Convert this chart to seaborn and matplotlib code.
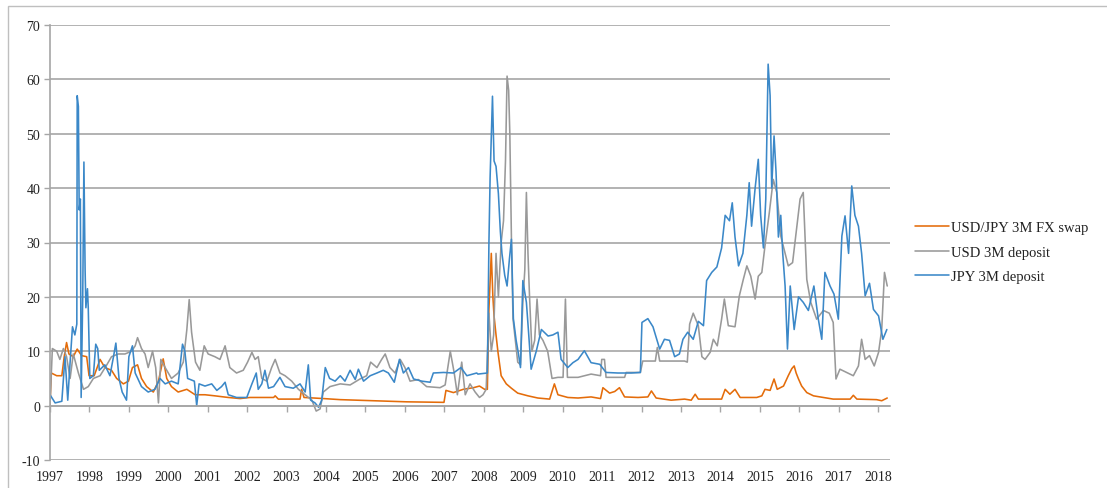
import numpy as np
import pandas as pd
import seaborn as sns
import matplotlib
matplotlib.use("Agg")
import matplotlib.pyplot as plt
from matplotlib.patches import Rectangle

# DATA (decimal year, bps)

swap_t = [1997.00, 1997.03, 1997.17, 1997.30, 1997.36, 1997.42, 1997.48, 1997.59, 1997.69, 1997.80,
          1997.93, 1997.99, 1998.12, 1998.27, 1998.39, 1998.56, 1998.69, 1998.86, 1998.99, 1999.09,
          1999.22, 1999.32, 1999.45, 1999.62, 1999.75, 1999.87, 1999.96, 2000.08, 2000.25, 2000.47,
          2000.68, 2000.93, 2001.18, 2001.52,
          2001.82, 2002.07, 2002.33, 2002.67, 2002.71, 2002.79, 2003.34, 2003.38, 2003.44, 2003.93,
          2004.36, 2005.20, 2006.04, 2006.99, 2007.04, 2007.23, 2007.48, 2007.74,
          2007.89, 2008.02, 2008.09, 2008.13, 2008.19, 2008.23, 2008.26, 2008.31, 2008.36, 2008.44,
          2008.57, 2008.70, 2008.86, 2009.12, 2009.37, 2009.67, 2009.79, 2009.88, 2010.13, 2010.39,
          2010.72, 2010.96, 2011.02, 2011.19, 2011.32, 2011.44, 2011.57, 2011.91, 2012.16, 2012.25,
          2012.37, 2012.75, 2013.09, 2013.26,
          2013.36, 2013.44, 2013.74, 2014.03, 2014.12, 2014.24, 2014.37, 2014.50, 2014.92, 2015.05,
          2015.13, 2015.26, 2015.36, 2015.44, 2015.60, 2015.72, 2015.81, 2015.87, 2015.92, 2015.98,
          2016.06, 2016.19, 2016.36, 2016.61, 2016.86, 2017.29, 2017.37, 2017.46, 2017.96, 2018.09,
          2018.23]
swap_v = [0.0, 6.0, 5.5, 5.5, 9.0, 11.6, 9.5, 9.0, 10.4, 9.2,
          9.0, 5.5, 5.5, 8.5, 7.0, 6.5, 5.0, 4.0, 4.5, 7.0,
          7.5, 5.0, 3.5, 2.5, 4.5, 8.6, 5.0, 3.5, 2.5, 3.0,
          2.0, 2.0, 1.8, 1.5,
          1.3, 1.5, 1.5, 1.5, 1.8, 1.2, 1.2, 3.0, 1.5, 1.3,
          1.1, 0.9, 0.7, 0.6, 2.8, 2.4, 3.0, 3.3,
          3.6, 3.0, 3.0, 17.7, 28.0, 20.0, 16.5, 13.0, 9.8, 5.5,
          4.0, 3.2, 2.3, 1.8, 1.4, 1.2, 4.0, 2.0, 1.5, 1.4,
          1.6, 1.3, 3.3, 2.3, 2.6, 3.3, 1.6, 1.5, 1.6, 2.7,
          1.4, 1.0, 1.2, 1.0,
          2.1, 1.2, 1.2, 1.2, 3.0, 2.1, 3.0, 1.5, 1.5, 1.8,
          3.0, 2.8, 4.9, 3.0, 3.6, 5.5, 6.8, 7.3, 6.0, 4.9,
          3.6, 2.4, 1.8, 1.5, 1.2, 1.2, 1.9, 1.2, 1.1, 0.9,
          1.4]

usd_t = [1997.00, 1997.06, 1997.17, 1997.25, 1997.34, 1997.42, 1997.51, 1997.59, 1997.72, 1997.85,
         1997.97, 1998.10, 1998.27, 1998.44, 1998.56, 1998.73, 1998.90, 1999.07, 1999.16, 1999.22,
         1999.32, 1999.41, 1999.49, 1999.60, 1999.68, 1999.75, 1999.81, 1999.92, 2000.08, 2000.25,
         2000.38, 2000.47, 2000.53, 2000.59, 2000.69, 2000.80, 2000.91, 2001.01, 2001.18, 2001.31,
         2001.44, 2001.56, 2001.73,
         2001.90, 2002.01, 2002.12, 2002.20, 2002.28, 2002.37, 2002.50, 2002.62, 2002.71, 2002.83,
         2002.96, 2003.13, 2003.30, 2003.47, 2003.64, 2003.75, 2003.85, 2003.93, 2004.10, 2004.36,
         2004.61, 2004.86, 2005.03, 2005.13, 2005.29, 2005.41, 2005.50, 2005.62, 2005.75, 2005.88,
         2006.00, 2006.13, 2006.34, 2006.55, 2006.89, 2007.02, 2007.15, 2007.25, 2007.33, 2007.44,
         2007.53, 2007.65, 2007.78,
         2007.89, 2007.98, 2008.06, 2008.13, 2008.19, 2008.25, 2008.31, 2008.37, 2008.44, 2008.50,
         2008.55, 2008.59, 2008.63, 2008.66, 2008.70, 2008.74, 2008.80, 2008.86, 2008.93, 2008.99,
         2009.04, 2009.08, 2009.12, 2009.16, 2009.22, 2009.29, 2009.35, 2009.41, 2009.50, 2009.62,
         2009.73, 2009.88, 2010.01, 2010.07, 2010.12, 2010.39, 2010.72, 2010.96, 2010.99, 2011.06,
         2011.10, 2011.57, 2011.61, 2011.97, 2012.03, 2012.35, 2012.40, 2012.46, 2013.09, 2013.16,
         2013.22,
         2013.31, 2013.44, 2013.53, 2013.61, 2013.74, 2013.82, 2013.92, 2014.03, 2014.10, 2014.20,
         2014.37, 2014.48, 2014.58, 2014.67, 2014.77, 2014.88, 2014.96, 2015.05, 2015.13, 2015.24,
         2015.34, 2015.43, 2015.53, 2015.64, 2015.72, 2015.83, 2015.94, 2016.02, 2016.10, 2016.19,
         2016.29, 2016.44, 2016.61, 2016.76, 2016.86, 2016.93, 2017.03, 2017.20, 2017.37, 2017.50,
         2017.58, 2017.67, 2017.78, 2017.90, 2018.01, 2018.09, 2018.16, 2018.23]
usd_v = [0.0, 10.5, 10.0, 8.5, 10.5, 9.0, 5.0, 9.5, 6.0, 3.0,
         3.5, 5.0, 5.5, 7.5, 9.0, 9.5, 9.5, 10.0, 11.0, 12.5,
         10.5, 9.5, 7.0, 10.0, 7.0, 0.5, 8.5, 7.0, 5.0, 6.0,
         8.0, 14.0, 19.5, 13.5, 8.0, 6.5, 11.0, 9.5, 9.0, 8.5,
         11.0, 7.0, 6.0,
         6.5, 8.0, 9.8, 8.5, 9.0, 5.0, 4.5, 7.0, 8.5, 6.0,
         5.5, 4.5, 3.0, 2.0, 1.0, -1.0, -0.6, 2.5, 3.5, 4.0,
         3.8, 4.9, 5.5, 8.0, 7.0, 8.5, 9.5, 7.0, 6.0, 8.5,
         7.0, 4.5, 4.8, 3.5, 3.3, 3.8, 10.0, 6.0, 2.0, 8.0,
         2.0, 4.0, 2.5,
         1.5, 2.0, 3.0, 17.0, 10.0, 13.0, 28.0, 20.0, 30.0, 34.0,
         45.0, 60.6, 58.0, 50.0, 31.0, 16.0, 12.0, 8.0, 7.5, 19.0,
         25.0, 39.2, 28.0, 20.0, 10.0, 12.0, 19.6, 13.0, 12.0, 10.0,
         5.0, 5.2, 5.2, 19.6, 5.2, 5.2, 5.8, 5.5, 8.5, 8.5,
         5.2, 5.2, 6.1, 6.1, 8.2, 8.2, 10.7, 8.2, 8.2, 8.0,
         15.0,
         17.0, 14.7, 9.0, 8.5, 9.8, 12.2, 11.0, 15.9, 19.6, 14.7,
         14.5, 20.2, 23.2, 25.7, 23.8, 19.6, 23.8, 24.5, 29.4, 35.5,
         41.6, 39.2, 31.2, 28.0, 25.7, 26.3, 33.0, 38.0, 39.2, 23.2,
         19.0, 15.9, 17.5, 17.0, 15.3, 4.9, 6.7, 6.1, 5.5, 7.3,
         12.2, 8.5, 9.2, 7.3, 9.8, 14.0, 24.5, 22.0]

jpy_t = [1997.00, 1997.13, 1997.30, 1997.38, 1997.45, 1997.51, 1997.57, 1997.63, 1997.68, 1997.69,
         1997.72, 1997.74, 1997.77, 1997.79, 1997.83, 1997.86, 1997.89, 1997.91, 1997.95, 1997.97,
         1998.01, 1998.10, 1998.16, 1998.21, 1998.25, 1998.39, 1998.52, 1998.61, 1998.67, 1998.75,
         1998.83, 1998.94, 1999.00, 1999.09, 1999.16, 1999.32, 1999.49, 1999.66, 1999.79, 1999.92,
         2000.08, 2000.25, 2000.36, 2000.42, 2000.49, 2000.66, 2000.72, 2000.78, 2000.93, 2001.10,
         2001.23, 2001.35, 2001.44, 2001.52, 2001.73,
         2001.82, 2001.99, 2002.12, 2002.23, 2002.28, 2002.37, 2002.45, 2002.54, 2002.67, 2002.83,
         2002.96, 2003.17, 2003.34, 2003.47, 2003.55, 2003.61, 2003.72, 2003.81, 2003.89, 2003.98,
         2004.09, 2004.23, 2004.36, 2004.48, 2004.61, 2004.74, 2004.82, 2004.95, 2005.12, 2005.29,
         2005.45, 2005.58, 2005.73, 2005.86, 2005.96, 2006.09, 2006.22, 2006.43, 2006.64, 2006.72,
         2006.98, 2007.23, 2007.42, 2007.57, 2007.82,
         2007.85, 2008.09, 2008.13, 2008.16, 2008.22, 2008.26, 2008.31, 2008.37, 2008.42, 2008.46,
         2008.53, 2008.59, 2008.65, 2008.70, 2008.75, 2008.82, 2008.88, 2008.93, 2008.99, 2009.08,
         2009.13, 2009.20, 2009.33, 2009.46, 2009.63, 2009.75, 2009.88, 2009.96, 2010.13, 2010.26,
         2010.39, 2010.55, 2010.72, 2010.94, 2011.10, 2011.40, 2011.74, 2011.97, 2012.01, 2012.16,
         2012.29, 2012.46, 2012.58, 2012.71, 2012.84, 2012.96, 2013.05, 2013.17,
         2013.31, 2013.44, 2013.57, 2013.65, 2013.78, 2013.91, 2014.03, 2014.12, 2014.23, 2014.30,
         2014.37, 2014.46, 2014.57, 2014.67, 2014.73, 2014.79, 2014.88, 2014.96, 2015.02, 2015.09,
         2015.15, 2015.21, 2015.26, 2015.30, 2015.36, 2015.41, 2015.47, 2015.53, 2015.58, 2015.64,
         2015.70, 2015.77, 2015.87, 2015.98, 2016.10, 2016.23, 2016.37, 2016.48, 2016.57, 2016.65,
         2016.78, 2016.88, 2016.99, 2017.08, 2017.16, 2017.25, 2017.33, 2017.41, 2017.50, 2017.58,
         2017.67, 2017.78, 2017.88, 2018.01, 2018.12, 2018.22]
jpy_v = [2.0, 0.5, 0.8, 9.0, 1.0, 8.0, 14.5, 13.0, 15.0, 57.0,
         55.0, 36.0, 38.0, 1.5, 20.0, 44.8, 25.0, 18.0, 21.5, 18.0,
         5.0, 5.5, 11.3, 10.5, 6.5, 7.5, 5.5, 9.0, 11.5, 5.0,
         2.5, 1.0, 9.0, 11.0, 6.0, 3.5, 2.5, 3.0, 5.0, 4.0,
         4.5, 4.0, 11.3, 10.0, 5.0, 4.5, 0.0, 4.0, 3.6, 4.0,
         2.8, 3.5, 4.3, 2.0, 1.5,
         1.5, 1.5, 4.0, 6.0, 3.0, 4.0, 6.5, 3.2, 3.5, 5.2,
         3.5, 3.2, 4.0, 2.5, 7.5, 1.0, 0.5, -0.3, 1.0, 7.0,
         5.0, 4.5, 5.5, 4.5, 6.5, 4.8, 6.7, 4.5, 5.5, 6.0,
         6.5, 6.0, 4.3, 8.5, 6.0, 7.0, 4.9, 4.5, 4.3, 6.0,
         6.1, 6.0, 7.0, 5.5, 6.0,
         5.8, 6.0, 30.0, 42.0, 56.9, 45.0, 44.0, 39.0, 32.0, 28.0,
         24.0, 22.0, 27.0, 30.6, 16.0, 12.0, 9.5, 7.0, 23.0, 19.0,
         14.0, 6.7, 10.0, 14.0, 12.8, 13.0, 13.5, 8.5, 7.0, 7.9,
         8.5, 10.1, 7.9, 7.6, 6.1, 6.0, 6.0, 6.1, 15.3, 16.0,
         14.5, 10.4, 12.2, 12.0, 9.0, 9.5, 12.2, 13.5,
         12.2, 15.5, 14.7, 23.0, 24.5, 25.5, 29.0, 35.0, 34.0, 37.3,
         31.0, 25.7, 28.0, 35.0, 41.0, 33.0, 40.0, 45.3, 35.0, 29.0,
         38.0, 62.8, 57.0, 40.0, 49.6, 43.0, 31.0, 35.0, 28.0, 22.0,
         10.4, 22.0, 14.0, 20.0, 19.0, 17.5, 22.0, 16.0, 12.2, 24.5,
         22.0, 20.5, 15.9, 31.2, 34.9, 28.0, 40.4, 35.0, 33.0, 28.0,
         20.2, 22.5, 17.7, 16.5, 12.2, 14.0]

series_names = ["USD/JPY 3M FX swap", "USD 3M deposit", "JPY 3M deposit"]
series_colors = ["#E46C0A", "#999999", "#3B88C8"]
years = list(range(1997, 2019))
y_ticks = list(range(-10, 71, 10))


# STYLE

sns.set_style("white")
plt.rcParams["font.family"] = ["Liberation Serif", "DejaVu Serif"]
plt.rcParams["axes.unicode_minus"] = False
grid_col = "#a6a6a6"
text_col = "#222222"

fig = plt.figure(figsize=(11.07, 4.89), dpi=100)
ax = fig.add_axes([50 / 1107, 1 - 461 / 489, 840 / 1107, 435 / 489])

frames = [
    pd.DataFrame({"t": swap_t, "v": swap_v}),
    pd.DataFrame({"t": usd_t, "v": usd_v}),
    pd.DataFrame({"t": jpy_t, "v": jpy_v}),
]

for df, name, col in zip(frames, series_names, series_colors):
    sns.lineplot(data=df, x="t", y="v", color=col, linewidth=1.15,
                 label=name, ax=ax, legend=False)

ax.set_xlim(1997, 2018.30)
ax.set_ylim(-10, 70)
ax.set_yticks(y_ticks)
ax.set_xlabel("")
ax.set_ylabel("")

ax.grid(axis="y", color=grid_col, linewidth=1.2)
ax.set_axisbelow(True)

for s in ["top", "right"]:
    ax.spines[s].set_visible(False)
ax.spines["left"].set_color(grid_col)
ax.spines["left"].set_linewidth(1.2)
ax.spines["bottom"].set_position(("data", 0))
ax.spines["bottom"].set_color(grid_col)
ax.spines["bottom"].set_linewidth(1.2)

# year ticks sit on the zero line, labels sit below the -10 line
ax.set_xticks(years)
ax.tick_params(axis="x", which="both", bottom=True, labelbottom=False,
               length=4, width=1, color=grid_col, direction="out")
ax.tick_params(axis="y", left=True, length=4, width=1, color=grid_col,
               labelsize=10, pad=3, labelcolor=text_col)

sec = ax.secondary_xaxis("bottom")
sec.set_xticks(years)
sec.set_xticklabels([str(y) for y in years])
sec.tick_params(length=0, pad=7, labelsize=10, labelcolor=text_col)
sec.spines["bottom"].set_visible(False)

handles, labels = ax.get_legend_handles_labels()
fig.legend(handles, labels, loc="center left",
           bbox_to_anchor=(915 / 1107, 1 - 253 / 489),
           frameon=False, fontsize=10.5, handlelength=2.3,
           handletextpad=0.15, labelspacing=0.75, borderpad=0,
           borderaxespad=0, labelcolor=text_col)

# outer chart border
fig.add_artist(Rectangle((8 / 1107, -0.1), 1.2, 1.1 - 7 / 489,
                         transform=fig.transFigure, fill=False,
                         edgecolor="#bfbfbf", linewidth=1.0))

plt.savefig("out.png", dpi=100)
plt.close()
